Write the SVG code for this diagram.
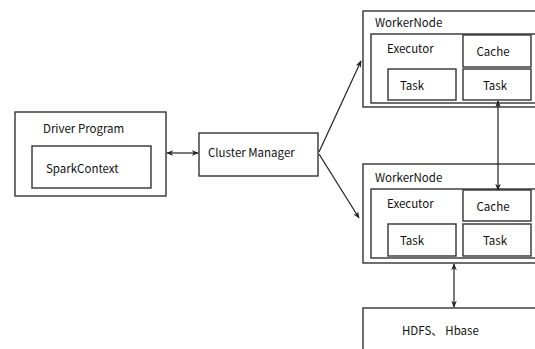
<svg xmlns="http://www.w3.org/2000/svg" width="535" height="349" viewBox="0 0 535 349">
<defs>
<marker id="ah" viewBox="0 0 10 10" refX="9" refY="5" markerWidth="7" markerHeight="7" orient="auto-start-reverse" markerUnits="userSpaceOnUse">
<path d="M0,1 L10,5 L0,9 L3,5 Z" fill="#222"/>
</marker>
</defs>
<style>
.b{fill:#fff;stroke:#333;stroke-width:1.4}
.t{font-family:"Noto Sans CJK SC","Noto Sans",sans-serif;font-size:11.5px;fill:#111}
.c{stroke:#222;stroke-width:1.2;fill:none}
</style>
<rect width="535" height="349" fill="#fff"/>
<g id="driver">
<rect class="b" x="15" y="112" width="151" height="84"/>
<text class="t" x="43" y="133">Driver Program</text>
<rect class="b" x="32" y="146" width="119" height="42"/>
<text class="t" x="46" y="173">SparkContext</text>
</g>
<g id="cluster">
<rect class="b" x="199" y="133" width="119" height="43"/>
<text class="t" x="208" y="157">Cluster Manager</text>
</g>
<g id="worker1">
<rect class="b" x="363" y="11" width="180" height="96"/>
<text class="t" x="375" y="27">WorkerNode</text>
<rect class="b" x="371" y="34" width="170" height="69"/>
<text class="t" x="387" y="53">Executor</text>
<rect class="b" x="463" y="35" width="68" height="32"/>
<text class="t" x="493" y="56" text-anchor="middle">Cache</text>
<rect class="b" x="388" y="69" width="68" height="31"/>
<text class="t" x="412" y="90" text-anchor="middle">Task</text>
<rect class="b" x="463" y="69" width="68" height="31"/>
<text class="t" x="495" y="90" text-anchor="middle">Task</text>
</g>
<g id="worker2">
<rect class="b" x="363" y="164" width="180" height="99"/>
<text class="t" x="375" y="182">WorkerNode</text>
<rect class="b" x="371" y="189" width="170" height="69"/>
<text class="t" x="387" y="208">Executor</text>
<rect class="b" x="463" y="190" width="68" height="31"/>
<text class="t" x="493" y="211" text-anchor="middle">Cache</text>
<rect class="b" x="388" y="224" width="68" height="32"/>
<text class="t" x="412" y="245" text-anchor="middle">Task</text>
<rect class="b" x="463" y="224" width="68" height="32"/>
<text class="t" x="495" y="245" text-anchor="middle">Task</text>
</g>
<g id="hdfs">
<rect class="b" x="363" y="308" width="180" height="50"/>
<text class="t" x="402" y="335">HDFS、 Hbase</text>
</g>
<g id="connectors">
<line class="c" x1="167" y1="153" x2="198" y2="153" marker-start="url(#ah)" marker-end="url(#ah)"/>
<line class="c" x1="319" y1="152" x2="361" y2="61" marker-end="url(#ah)"/>
<line class="c" x1="319" y1="154" x2="359" y2="218" marker-end="url(#ah)"/>
<line class="c" x1="498" y1="101" x2="498" y2="190" marker-start="url(#ah)" marker-end="url(#ah)"/>
<line class="c" x1="454" y1="264" x2="454" y2="307" marker-start="url(#ah)" marker-end="url(#ah)"/>
</g>
</svg>
